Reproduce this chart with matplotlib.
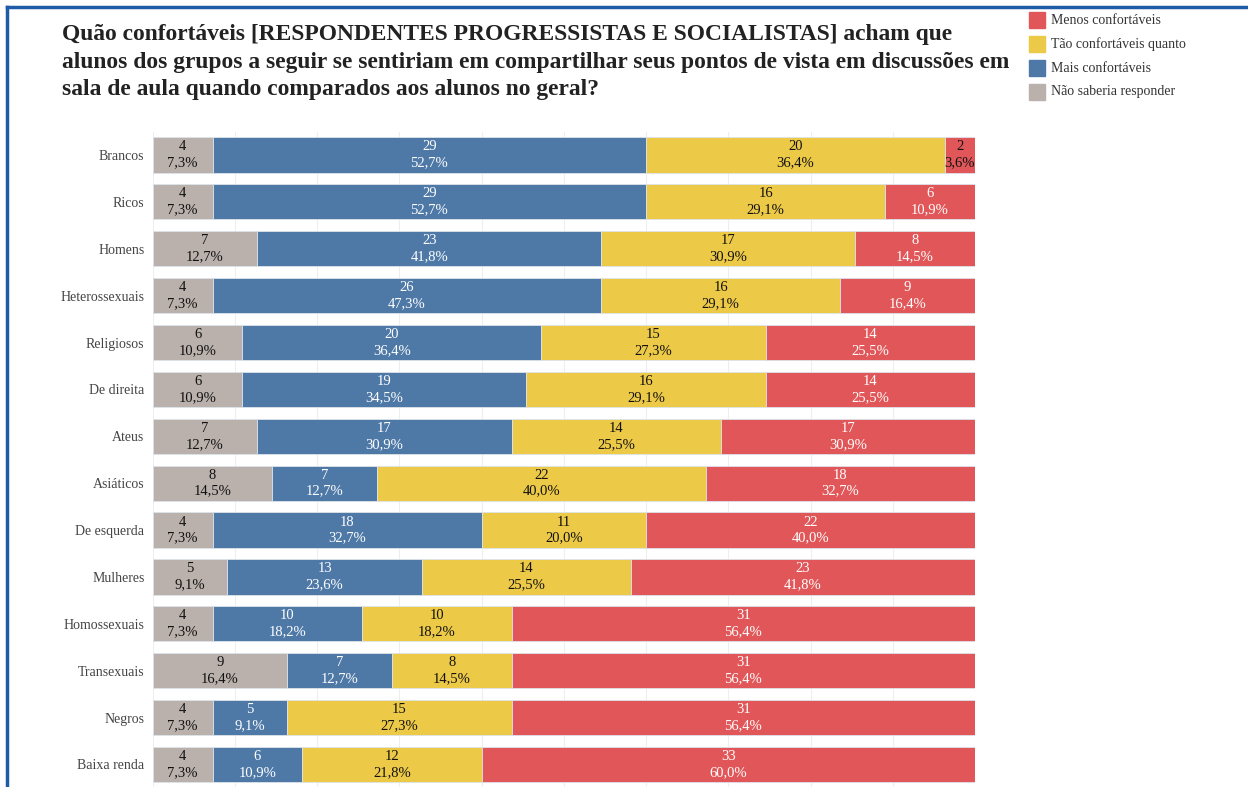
import matplotlib.pyplot as plt
from matplotlib.lines import Line2D
from matplotlib.patches import Rectangle

plt.rcParams['font.family'] = ['Liberation Serif', 'DejaVu Serif']

# data (count out of 55 respondents)
categories = ["Brancos", "Ricos", "Homens", "Heterossexuais", "Religiosos", "De direita",
              "Ateus", "Asiáticos", "De esquerda", "Mulheres", "Homossexuais",
              "Transexuais", "Negros", "Baixa renda"]
nao_sabe = [4, 4, 7, 4, 6, 6, 7, 8, 4, 5, 4, 9, 4, 4]
mais = [29, 29, 23, 26, 20, 19, 17, 7, 18, 13, 10, 7, 5, 6]
tao = [20, 16, 17, 16, 15, 16, 14, 22, 11, 14, 10, 8, 15, 12]
menos = [2, 6, 8, 9, 14, 14, 17, 18, 22, 23, 31, 31, 31, 33]

series = [
    ("Não saberia responder", nao_sabe, "#bab0ac", "#111111"),
    ("Mais confortáveis", mais, "#4e79a7", "white"),
    ("Tão confortáveis quanto", tao, "#edc948", "#111111"),
    ("Menos confortáveis", menos, "#e15759", "white"),
]

fig = plt.figure(figsize=(12.48, 7.87), dpi=100)
ax = fig.add_axes([0.1224, 0.0, 0.6588, 0.8329])

totals = [a + b + c + d for a, b, c, d in zip(nao_sabe, mais, tao, menos)]
y = list(range(len(categories)))
left = [0.0] * len(categories)
for name, vals, col, tcol in series:
    pcts = [v / t * 100 for v, t in zip(vals, totals)]
    ax.barh(y, pcts, left=left, height=0.75, color=col, edgecolor="#dde3ea",
            linewidth=0.6, zorder=2)
    for i, (v, p) in enumerate(zip(vals, pcts)):
        c = tcol
        if p < 5:
            c = "#111111"
        lbl = "%d\n%s%%" % (v, ("%.1f" % p).replace(".", ","))
        ax.text(left[i] + p / 2, i, lbl, ha="center", va="center", fontsize=10.5,
                color=c, linespacing=1.3, zorder=3)
    left = [l + p for l, p in zip(left, pcts)]

ax.set_xlim(0, 100)
ax.set_ylim(13.48, -0.5)
ax.set_xticks(range(0, 101, 10))
ax.grid(axis="x", color="#eeeeee", linewidth=0.8, zorder=0)
ax.set_yticks(y)
ax.set_yticklabels(categories, fontsize=10, color="#444444")
ax.tick_params(axis="y", length=0, pad=6)
ax.tick_params(axis="x", length=0, labelbottom=False)
for s in ax.spines.values():
    s.set_visible(False)

# title
fig.text(62 / 1248, 1 - 24 / 787,
         "Quão confortáveis [RESPONDENTES PROGRESSISTAS E SOCIALISTAS] acham que\n"
         "alunos dos grupos a seguir se sentiriam em compartilhar seus pontos de vista em discussões em\n"
         "sala de aula quando comparados aos alunos no geral?",
         ha="left", va="top", fontsize=16.9, fontweight="bold", color="#222222",
         linespacing=1.42)

# legend
leg_items = [("Menos confortáveis", "#e15759"), ("Tão confortáveis quanto", "#edc948"),
             ("Mais confortáveis", "#4e79a7"), ("Não saberia responder", "#bab0ac")]
for k, (name, col) in enumerate(leg_items):
    yc = 20 + k * 24
    fig.add_artist(Rectangle((1029 / 1248, 1 - (yc + 8) / 787), 16 / 1248, 16 / 787,
                             color=col, transform=fig.transFigure))
    fig.text(1051 / 1248, 1 - yc / 787, name, ha="left", va="center", fontsize=10,
             color="#333333")

# blue frame (top and left)
fig.add_artist(Line2D([7 / 1248, 1], [1 - 7 / 787, 1 - 7 / 787], color="#1f5ca8",
                      linewidth=2.5, transform=fig.transFigure))
fig.add_artist(Line2D([7 / 1248, 7 / 1248], [0, 1 - 7 / 787], color="#1f5ca8",
                      linewidth=2.5, transform=fig.transFigure))

fig.savefig("out.png", dpi=100)
